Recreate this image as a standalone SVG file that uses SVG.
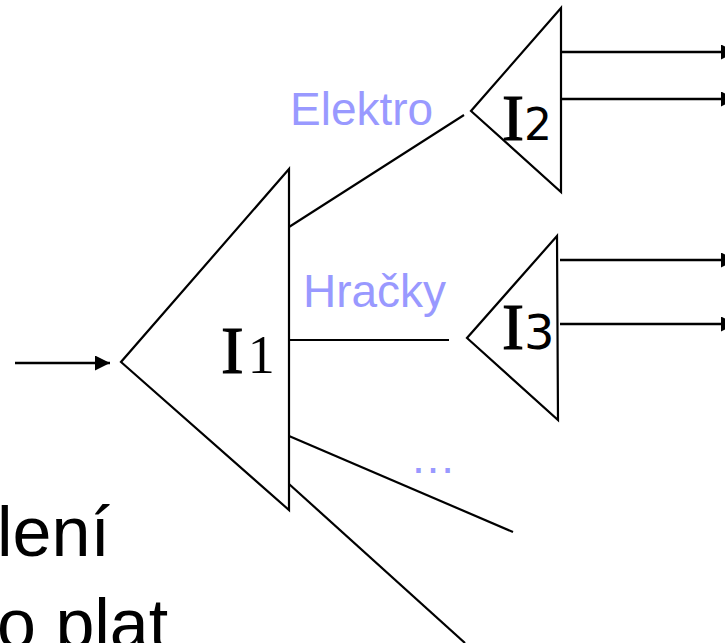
<svg xmlns="http://www.w3.org/2000/svg" width="725" height="643" viewBox="0 0 725 643">
<defs>
<style>
.shape{fill:none;stroke:#000;stroke-width:2.2;stroke-linejoin:miter}
.conn{fill:none;stroke:#000;stroke-width:2.2}
.arr{fill:none;stroke:#000;stroke-width:2.5}
.lbl{font-family:"Liberation Sans",Arial,sans-serif;font-size:46px;fill:#9999FF}
.big{font-family:"Liberation Sans",Arial,sans-serif;font-size:70px;fill:#000}
.ser{font-family:"Liberation Serif","Times New Roman",serif;fill:#000}
.iv{stroke:#000;stroke-width:1.2}
.dig{font-family:"DejaVu Sans","Liberation Sans",sans-serif}
</style>
<marker id="ah" markerWidth="15" markerHeight="15" refX="15" refY="7.5" orient="auto" markerUnits="userSpaceOnUse">
<path d="M0,0 L15,7.5 L0,15 Z" fill="#000"/>
</marker>
</defs>
<rect width="725" height="643" fill="#fff"/>
<g id="text-bottom">
<text class="big" x="-3" y="556">lení</text>
<text class="big" x="-3" y="648">o plat</text>
</g>
<g id="connectors">
<line class="arr" x1="15" y1="363" x2="110" y2="363" marker-end="url(#ah)"/>
<line class="conn" x1="289" y1="227" x2="464" y2="115"/>
<line class="conn" x1="289" y1="340" x2="449" y2="340"/>
<line class="conn" x1="289" y1="436" x2="513" y2="532"/>
<line class="conn" x1="289" y1="484" x2="465" y2="643"/>
<line class="arr" x1="561" y1="52" x2="736" y2="52" marker-end="url(#ah)"/>
<line class="arr" x1="561" y1="99" x2="736" y2="99" marker-end="url(#ah)"/>
<line class="arr" x1="560" y1="260" x2="736" y2="260" marker-end="url(#ah)"/>
<line class="arr" x1="560" y1="324" x2="736" y2="324" marker-end="url(#ah)"/>
</g>
<g id="labels">
<text class="lbl" x="290" y="125">Elektro</text>
<text class="lbl" x="303" y="307">Hračky</text>
<text class="lbl" x="410" y="473" font-size="48">…</text>
</g>
<g id="node-I1">
<path class="shape" d="M289,169 L121,362 L289,510 Z"/>
<text class="ser" x="221" y="373"><tspan class="iv" font-size="68">I</tspan><tspan font-size="54" dx="4">1</tspan></text>
</g>
<g id="node-I2">
<path class="shape" d="M561,8 L471,111 L561,192 Z"/>
<text class="ser" x="502" y="140"><tspan class="iv" font-size="66">I</tspan><tspan class="dig" font-size="44">2</tspan></text>
</g>
<g id="node-I3">
<path class="shape" d="M557,236 L467,338 L558,420 Z"/>
<text class="ser" x="502" y="349"><tspan class="iv" font-size="66">I</tspan><tspan class="dig" font-size="48">3</tspan></text>
</g>
</svg>
